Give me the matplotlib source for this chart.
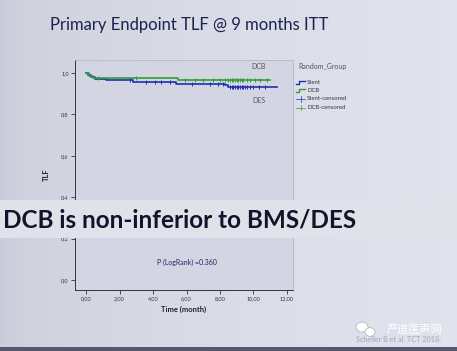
import numpy as np
import matplotlib.pyplot as plt
from matplotlib.patches import Rectangle, Ellipse
from matplotlib.lines import Line2D
from matplotlib.ticker import FuncFormatter

plt.rcParams['font.family'] = ['Lato', 'DejaVu Sans']

# Kaplan-Meier steps
stent_t = [0, 0.1, 0.3, 0.55, 1.2, 2.8, 5.4, 8.3, 8.5, 11.4]
stent_s = [1.0, 0.99, 0.98, 0.972, 0.964, 0.955, 0.948, 0.94, 0.932, 0.932]
dcb_t = [0, 0.15, 0.4, 5.5, 8.4, 11.0]
dcb_s = [1.0, 0.985, 0.975, 0.967, 0.965, 0.965]

stent_cens = [2.6, 3.6, 4.1, 4.5, 5.0, 6.3, 7.4, 7.9, 8.2, 8.6, 8.7, 8.8, 8.9,
              9.0, 9.1, 9.2, 9.3, 9.4, 9.5, 9.6, 9.8, 10.0, 10.3, 10.7]
dcb_cens = [0.7, 3.0, 5.9, 6.5, 7.0, 7.6, 8.0, 8.3, 8.5, 8.6, 8.7, 8.8, 8.9,
            9.0, 9.1, 9.2, 9.3, 9.4, 9.6, 9.8, 10.1, 10.4, 10.8]

x_ticks = [0, 2, 4, 6, 8, 10, 12]
y_ticks = [0.0, 0.2, 0.4, 0.6, 0.8, 1.0]


def step_at(ts, ss, t):
    i = np.searchsorted(ts, t, side='right') - 1
    return ss[i]


W, H = 457, 351
fig = plt.figure(figsize=(W / 100, H / 100), dpi=100)

# slide background with a soft horizontal gradient
bg = fig.add_axes([0, 0, 1, 1], zorder=-10)
grad = np.linspace(0, 1, 256)
cols = np.array([[0.79, 0.80, 0.85], [0.88, 0.89, 0.93]])
img = cols[0] + (cols[1] - cols[0]) * np.sqrt(grad)[:, None]
bg.imshow(img[None, :, :], aspect='auto', extent=[0, 1, 0, 1])
bg.axis('off')

ax = fig.add_axes([75 / W, 1 - 290 / H, 218 / W, 230 / H])
ax.set_facecolor('#d4d5e2')
ax.step(stent_t, stent_s, where='post', color='#1f2fb0', lw=1.2)
ax.step(dcb_t, dcb_s, where='post', color='#2f9e36', lw=1.2)
ax.plot(stent_cens, [step_at(stent_t, stent_s, t) for t in stent_cens], '|',
        color='#1f2fb0', ms=3.5, mew=0.7)
ax.plot(dcb_cens, [step_at(dcb_t, dcb_s, t) for t in dcb_cens], '|',
        color='#2f9e36', ms=3.5, mew=0.7)

ax.set_xlim(-0.66, 12.36)
ax.set_ylim(-0.048, 1.063)
ax.set_xticks(x_ticks)
ax.set_yticks(y_ticks)
ax.xaxis.set_major_formatter(FuncFormatter(lambda v, p: f'{v:.2f}'.replace('.', ',')))
ax.yaxis.set_major_formatter(FuncFormatter(lambda v, p: f'{v:.1f}'.replace('.', ',')))
ax.tick_params(labelsize=4, length=3, width=0.6, colors='#333344', pad=1.5)
for s in ['left', 'bottom']:
    ax.spines[s].set_color('#333344')
    ax.spines[s].set_linewidth(0.7)
for s in ['top', 'right']:
    ax.spines[s].set_color('#b8b9c6')
    ax.spines[s].set_linewidth(0.6)

ax.set_xlabel('Time (month)', fontsize=5.5, fontweight='bold', color='#222233', labelpad=3)
ax.set_ylabel('TLF', fontsize=5.5, fontweight='bold', color='#222233', labelpad=8)
ax.text(10.3, 1.03, 'DCB', fontsize=5, color='#555566', ha='center', va='center')
ax.text(10.3, 0.865, 'DES', fontsize=5, color='#555566', ha='center', va='center')
ax.text(6.0, 0.085, 'P (LogRank) =0.360', fontsize=5, color='#1c2466', ha='center', va='center')

# legend, drawn outside the axes
fig.text(298 / W, 1 - 67 / H, 'Random_Group', fontsize=5, color='#555566', va='center')
leg = [('Stent', '#1f2fb0', 'step'), ('DCB', '#2f9e36', 'step'),
       ('Stent-censored', '#1f2fb0', 'cross'), ('DCB-censored', '#2f9e36', 'cross')]
for i, (lab, c, kind) in enumerate(leg):
    yy = 1 - (82 + 8.5 * i) / H
    if kind == 'step':
        fig.add_artist(Line2D(np.array([296, 299, 299, 305]) / W,
                              [yy - 1.5 / H, yy - 1.5 / H, yy + 1.5 / H, yy + 1.5 / H],
                              color=c, lw=1.0))
    else:
        fig.add_artist(Line2D(np.array([296, 305]) / W, [yy, yy], color=c, lw=0.5))
        fig.add_artist(Line2D([300.5 / W] * 2, [yy - 2.5 / H, yy + 2.5 / H], color=c, lw=0.5))
    fig.text(307 / W, yy, lab, fontsize=4.3, color='#333344', va='center')

# light band covering the middle of the chart with the headline
fig.add_artist(Rectangle((0, 1 - 238 / H), 1, 38 / H, transform=fig.transFigure,
                         facecolor='#e0e2ea', edgecolor='none', zorder=5))
fig.text(3 / W, 1 - 220 / H, 'DCB is non-inferior to BMS/DES', fontsize=17.5,
         fontweight='bold', color='#11142a', va='center', zorder=6)

fig.text(50 / W, 1 - 25 / H, 'Primary Endpoint TLF @ 9 months ITT', fontsize=12,
         color='#1c2150', va='center')

fig.text(356 / W, 1 - 340 / H, 'Scheller B et al. TCT 2018.', fontsize=5.2,
         color='#a2a6b8', va='center')
fig.add_artist(Ellipse((362 / W, 1 - 327 / H), 12 / W, 10 / H, facecolor='white',
                       edgecolor='#9a9aa8', lw=0.4))
fig.add_artist(Ellipse((370 / W, 1 - 332 / H), 10 / W, 8.5 / H, facecolor='white',
                       edgecolor='#9a9aa8', lw=0.4))
fig.text(387 / W, 1 - 330 / H, '严道医声网', fontsize=8, color='white', va='center',
         family=['Noto Sans CJK SC', 'DejaVu Sans'])

fig.add_artist(Rectangle((0, 0), 1, 4 / H, transform=fig.transFigure,
                         facecolor='#55586a', edgecolor='none', zorder=5))

fig.savefig('out.png', dpi=100)
